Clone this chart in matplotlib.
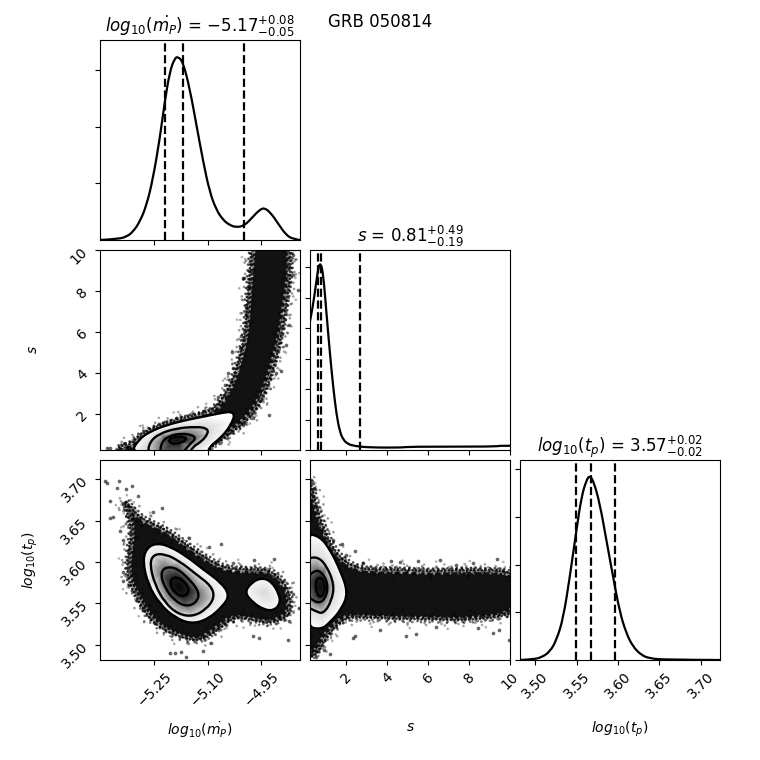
import numpy as np
import matplotlib
matplotlib.use('Agg')
import matplotlib.pyplot as plt
import matplotlib.tri as mtri
import matplotlib.transforms as mtrans
from matplotlib.path import Path
from matplotlib.patches import PathPatch

# limits and ticks
mp_lim = (-5.403, -4.841)
s_lim = (0.22, 10.0)
tp_lim = (3.4815, 3.7235)
mp_ticks = [-5.25, -5.10, -4.95]
s_ticks = [2, 4, 6, 8, 10]
tp_ticks = [3.50, 3.55, 3.60, 3.65, 3.70]
mp_label = r'$log_{10}(\dot{m_P})$'
s_label = r'$s$'
tp_label = r'$log_{10}(t_p)$'

# 1d histograms
h1_x = [-5.403, -5.352, -5.328, -5.310, -5.291, -5.272, -5.254, -5.235, -5.221, -5.207, -5.193, -5.184, -5.170, -5.151, -5.132, -5.113, -5.095, -5.076, -5.057, -5.039, -5.020, -4.997, -4.973, -4.955, -4.941, -4.922, -4.903, -4.880, -4.861, -4.841]
h1_y = [0, .035, .118, .294, .647, 1.235, 2.176, 3.588, 4.882, 5.941, 6.42, 6.47, 6.294, 5.353, 4.059, 2.765, 1.706, 1.059, .706, .529, .447, .506, .824, 1.059, 1.14, .941, .588, .176, .035, 0]
h1_q = [-5.220, -5.170, -4.998]
h2_x = [.22, .35, .51, .63, .74, .87, 1.03, 1.2, 1.36, 1.52, 1.68, 1.85, 2.09, 2.41, 3.15, 4.85, 4.93, 9.32, 9.4, 10]
h2_y = [.423, .467, .544, .6, .615, .577, .445, .313, .203, .115, .06, .033, .019, .013, .008, .008, .011, .011, .014, .014]
h2_q = [.59, .76, 2.66]
h3_x = [3.4815, 3.4976, 3.5076, 3.5177, 3.5257, 3.5338, 3.5418, 3.5498, 3.5559, 3.5619, 3.5659, 3.5707, 3.5780, 3.5860, 3.5941, 3.6021, 3.6101, 3.6182, 3.6282, 3.6383, 3.6564, 3.7235]
h3_y = [0, .07, .28, .87, 2.10, 4.37, 8.74, 13.64, 17.13, 18.88, 19.35, 18.71, 16.43, 12.59, 8.74, 5.07, 2.80, 1.40, .52, .17, .03, 0]
h3_q = [3.5490, 3.5679, 3.5961]

# mp vs s
a_env_x = [-4.975, -4.981, -4.985, -4.990, -4.992, -5.000, -5.014, -5.029, -5.053, -5.081, -5.109, -5.197, -5.291, -5.314, -5.352, -5.352, -5.099, -5.099, -5.067, -5.029, -4.992, -4.955, -4.931, -4.913, -4.899, -4.887, -4.880, -4.871, -4.866, -4.871]
a_env_y = [10.6, 9.27, 8.45, 7.47, 6.66, 5.52, 4.62, 3.72, 2.91, 2.26, 2.01, 1.69, 1.03, .51, .42, 0, 0, .27, .63, 1.12, 1.61, 2.42, 3.40, 4.38, 5.35, 6.33, 7.31, 8.29, 9.27, 10.6]
a_r1_x = [-5.318, -5.296, -5.263, -5.216, -5.160, -5.104, -5.057, -5.034, -5.025, -5.031, -5.048, -5.071, -5.095, -5.102]
a_r1_y = [0, .71, 1.12, 1.44, 1.69, 1.88, 2.05, 2.09, 1.93, 1.61, 1.12, .71, .38, 0]
a_r2_x = [-5.270, -5.263, -5.235, -5.188, -5.132, -5.102, -5.099, -5.118, -5.142, -5.153]
a_r2_y = [0, .63, 1.03, 1.28, 1.36, 1.28, 1.03, .63, .38, 0]
a_r3_x = [-5.235, -5.230, -5.207, -5.174, -5.142, -5.134, -5.151, -5.174]
a_r3_y = [0, .63, .92, 1.03, .95, .76, .51, 0]
a_r4_x = [-5.212, -5.193, -5.165, -5.160, -5.179, -5.202]
a_r4_y = [.71, .87, .87, .71, .55, .51]
a_mid_x = [-5.186]
a_mid_y = [.71]
a_pts_x = [-5.001, -4.997, -4.985, -4.973, -4.861, -4.847, -4.861, -4.871, -5.006, -5.031, -5.011, -5.028, -5.043, -4.894, -4.908, -5.053, -5.113, -5.071, -4.927, -5.001, -4.973, -5.384, -5.375, -4.880, -4.992, -4.994]
a_pts_y = [8.61, 8.61, 8.21, 9.02, 9.76, 8.04, 8.78, 6.33, 5.79, 5.0, 5.19, 4.21, 3.97, 4.08, 3.97, 3.40, 2.13, 2.83, 1.93, 1.44, 1.77, .30, .33, 5.35, 6.82, 7.23]

# mp vs tp
b_env_x = [-5.338, -5.291, -5.235, -5.197, -5.160, -5.113, -5.057, -4.992, -4.927, -4.894, -4.871, -4.866, -4.875, -4.927, -4.983, -5.029, -5.076, -5.123, -5.170, -5.226, -5.268, -5.300, -5.328, -5.324, -5.314, -5.328]
b_env_y = [3.678, 3.653, 3.643, 3.633, 3.621, 3.607, 3.593, 3.591, 3.591, 3.579, 3.565, 3.545, 3.533, 3.525, 3.531, 3.533, 3.516, 3.504, 3.508, 3.518, 3.533, 3.557, 3.581, 3.613, 3.637, 3.662]
b_r1_x = [-5.283, -5.272, -5.244, -5.207, -5.160, -5.113, -5.062, -5.039, -5.057, -5.099, -5.146, -5.193, -5.235, -5.268]
b_r1_y = [3.601, 3.617, 3.623, 3.619, 3.607, 3.591, 3.575, 3.560, 3.547, 3.531, 3.525, 3.533, 3.549, 3.573]
b_r2_x = [-5.263, -5.254, -5.221, -5.179, -5.132, -5.090, -5.081, -5.104, -5.142, -5.184, -5.221, -5.249]
b_r2_y = [3.597, 3.609, 3.610, 3.601, 3.585, 3.571, 3.557, 3.543, 3.534, 3.537, 3.551, 3.573]
b_r3_x = [-5.233, -5.221, -5.188, -5.151, -5.123, -5.132, -5.160, -5.193, -5.221]
b_r3_y = [3.585, 3.594, 3.593, 3.579, 3.563, 3.551, 3.546, 3.553, 3.569]
b_r4_x = [-5.207, -5.197, -5.174, -5.153, -5.156, -5.174, -5.196]
b_r4_y = [3.575, 3.582, 3.580, 3.569, 3.561, 3.558, 3.564]
b_mid_x = [-5.181]
b_mid_y = [3.570]
b_isle_x = [-4.997, -4.978, -4.950, -4.922, -4.899, -4.897, -4.917, -4.945, -4.973]
b_isle_y = [3.563, 3.575, 3.581, 3.577, 3.561, 3.549, 3.541, 3.543, 3.551]
b_isle_mid_x = [-4.941]
b_isle_mid_y = [3.563]
b_pts_x = [-5.389, -5.382, -5.349, -5.354, -5.330, -5.312, -5.296, -5.375, -5.366, -5.375, -5.347, -5.338, -5.230, -5.254, -5.153, -5.097, -5.062, -5.029, -4.969, -4.913, -4.889, -4.861, -4.843, -4.871, -4.875, -4.955, -4.973, -5.090, -5.113, -5.160, -5.193, -5.207, -5.174, -5.282, -5.338, -5.339]
b_pts_y = [3.698, 3.696, 3.698, 3.690, 3.689, 3.692, 3.680, 3.674, 3.655, 3.653, 3.637, 3.627, 3.666, 3.660, 3.629, 3.618, 3.622, 3.599, 3.603, 3.604, 3.577, 3.561, 3.544, 3.529, 3.506, 3.508, 3.510, 3.502, 3.492, 3.485, 3.490, 3.490, 3.491, 3.545, 3.577, 3.588]

# s vs tp
c_env_x = [0, .27, .545, .95, 1.52, 2.41, 3.47, 4.61, 6.23, 7.86, 10.6, 10.6, 7.86, 6.23, 4.61, 2.98, 2.0, 1.36, .95, .63, .27, 0]
c_env_y = [3.698, 3.698, 3.666, 3.637, 3.609, 3.593, 3.591, 3.591, 3.589, 3.591, 3.589, 3.537, 3.529, 3.531, 3.531, 3.533, 3.533, 3.520, 3.506, 3.492, 3.484, 3.484]
c_r1_x = [-.02, .71, 1.2, 1.68, 2.09, 1.76, 1.2, .74, -.02]
c_r1_y = [3.635, 3.631, 3.615, 3.591, 3.563, 3.543, 3.527, 3.518, 3.523]
c_r2_x = [-.02, .545, 1.0, 1.41, 1.28, .87, .46, -.02]
c_r2_y = [3.603, 3.607, 3.597, 3.573, 3.553, 3.537, 3.541, 3.547]
c_r3_x = [-.02, .545, .95, 1.11, .95, .63, .30, -.02]
c_r3_y = [3.579, 3.592, 3.583, 3.569, 3.555, 3.550, 3.555, 3.561]
c_r4_x = [.51, .79, .98, .87, .63, .50]
c_r4_y = [3.579, 3.582, 3.571, 3.559, 3.558, 3.567]
c_mid_x = [.74]
c_mid_y = [3.570]
c_pts_x = [.33, .43, .38, .545, 1.36, 1.80, 2.0, 2.41, 2.82, 4.2, 4.61, 5.5, 6.56, 7.37, 8.2, 9.35, 9.65, 2.33, 1.2, 4.93, 5.42, 6.4, 8.43, 9.48, 9.94, 9.16, .63, .9, 3.63, 2.41, .51]
c_pts_y = [3.698, 3.690, 3.680, 3.666, 3.627, 3.622, 3.608, 3.613, 3.599, 3.601, 3.600, 3.601, 3.603, 3.597, 3.599, 3.604, 3.589, 3.508, 3.489, 3.510, 3.513, 3.522, 3.520, 3.518, 3.506, 3.514, 3.492, 3.493, 3.518, 3.510, 3.485]

# grey shade on each ring, outer to centre
a_shades = [.99, .84, .45, .16, .05]
b_shades = [.99, .88, .45, .12, .02]
c_shades = [.99, .86, .45, .14, .04]


def smooth_path(xs, ys, closed=True):
    pts = np.column_stack([xs, ys])
    mids = (pts + np.roll(pts, -1, axis=0)) / 2
    verts = [mids[-1]]
    codes = [Path.MOVETO]
    for p, m in zip(pts, mids):
        verts += [p, m]
        codes += [Path.CURVE3, Path.CURVE3]
    if not closed:
        verts = [pts[0]]
        codes = [Path.MOVETO]
        for p, m in zip(pts[1:-1], mids[1:-2]):
            verts += [p, m]
            codes += [Path.CURVE3, Path.CURVE3]
        verts += [pts[-2], pts[-1]]
        codes += [Path.CURVE3, Path.CURVE3]
    return Path(verts, codes)


def draw_cloud(ax, env_x, env_y, pts_x, pts_y):
    path = smooth_path(env_x, env_y)
    ax.add_patch(PathPatch(path, fc='#121212', ec='none'))
    ax.add_patch(PathPatch(path, fc='none', ec='w', lw=3, alpha=0.5))
    # shifted copies of the edge, dots with different spacing so it looks speckled
    for (dx, dy), gap in zip([(3, 1), (-3, 2), (2, -3), (-2, -2)], [1.7, 2.3, 2.9, 3.7]):
        tr = mtrans.offset_copy(ax.transData, fig=ax.figure, x=dx, y=dy, units='dots')
        ax.add_patch(PathPatch(path, transform=tr, fc='none', ec='w', lw=2.0, ls=(0, (0.01, gap)), capstyle='round', alpha=0.5))
    for (dx, dy), gap, al in zip([(0, 0), (2, 2), (-2, 1), (1, -2), (-1, -3), (4, -1), (-4, 3), (6, 4), (-6, -4), (5, -6), (-5, 6), (9, 2), (-9, -1), (2, 9), (-1, -9)],
                                 [1.3, 1.7, 2.1, 2.7, 3.1, 3.9, 4.7, 5.3, 6.1, 6.7, 7.3, 9.7, 11.3, 12.1, 13.7],
                                 [.8, .7, .7, .55, .55, .4, .4, .4, .4, .35, .35, .3, .3, .3, .3]):
        tr = mtrans.offset_copy(ax.transData, fig=ax.figure, x=dx, y=dy, units='dots')
        ax.add_patch(PathPatch(path, transform=tr, fc='none', ec='k', lw=2.0, ls=(0, (0.01, gap)), capstyle='round', alpha=al))
    ax.scatter(pts_x, pts_y, s=7, c='k', alpha=0.6, linewidths=0)


def draw_rings(ax, rings, shades):
    # rings = [(x, y), ...] outer first, last one is the centre point
    xs = np.concatenate([r[0] for r in rings])
    ys = np.concatenate([r[1] for r in rings])
    vals = np.concatenate([[g] * len(r[0]) for r, g in zip(rings, shades)])
    # data scales differ a lot, triangulate on scaled coords
    tri = mtri.Triangulation(xs / np.ptp(xs), ys / np.ptp(ys))
    outer = smooth_path(rings[0][0], rings[0][1])
    clip = PathPatch(outer, transform=ax.transData, fc='none', ec='none')
    ax.add_patch(clip)
    shade = ax.tripcolor(mtri.Triangulation(xs, ys, tri.triangles), vals, shading='gouraud', cmap='gray', vmin=0, vmax=1)
    shade.set_clip_path(clip)
    for r in rings[:-1]:
        ax.add_patch(PathPatch(smooth_path(r[0], r[1]), fc='none', ec='k', lw=1.7))


def hist_panel(ax, x, y, q, lim, top, xticks, yticks):
    ax.add_patch(PathPatch(smooth_path(x, y, closed=False), fc='none', ec='k', lw=1.6))
    for v in q:
        ax.axvline(v, color='k', ls='--', lw=1.6)
    ax.set_xlim(lim)
    ax.set_ylim(0, top)
    ax.set_xticks(xticks)
    ax.set_yticks(yticks)
    ax.set_yticklabels([])


def px_axes(fig, left, top):
    return fig.add_axes([left / 760, 1 - (top + 200) / 760, 200 / 760, 200 / 760])


def fmt(vals):
    return [('%.2f' % v).replace('-', '\u2212') for v in vals]


fig = plt.figure(figsize=(7.6, 7.6), dpi=100)

ax_h1 = px_axes(fig, 100, 40)
ax_h2 = px_axes(fig, 310, 250)
ax_h3 = px_axes(fig, 520, 460)
ax_a = px_axes(fig, 100, 250)
ax_b = px_axes(fig, 100, 460)
ax_c = px_axes(fig, 310, 460)

hist_panel(ax_h1, h1_x, h1_y, h1_q, mp_lim, 7.06, mp_ticks, [2, 4, 6])
ax_h1.set_xticklabels([])
ax_h1.set_title(mp_label + r' = $-5.17_{-0.05}^{+0.08}$', fontsize=12)

hist_panel(ax_h2, h2_x, h2_y, h2_q, s_lim, 0.657, s_ticks, [0, .1, .2, .3, .4, .5, .6])
ax_h2.set_xticklabels([])
ax_h2.set_title(s_label + r' = $0.81_{-0.19}^{+0.49}$', fontsize=12)

hist_panel(ax_h3, h3_x, h3_y, h3_q, tp_lim, 20.98, tp_ticks, [0, 5, 10, 15, 20])
ax_h3.set_title(tp_label + r' = $3.57_{-0.02}^{+0.02}$', fontsize=12)

draw_cloud(ax_a, a_env_x, a_env_y, a_pts_x, a_pts_y)
draw_rings(ax_a, [(a_r1_x, a_r1_y), (a_r2_x, a_r2_y), (a_r3_x, a_r3_y), (a_r4_x, a_r4_y), (a_mid_x, a_mid_y)], a_shades)
ax_a.set_xlim(mp_lim)
ax_a.set_ylim(s_lim)
ax_a.set_xticks(mp_ticks)
ax_a.set_xticklabels([])
ax_a.set_yticks(s_ticks)

draw_cloud(ax_b, b_env_x, b_env_y, b_pts_x, b_pts_y)
draw_rings(ax_b, [(b_r1_x, b_r1_y), (b_r2_x, b_r2_y), (b_r3_x, b_r3_y), (b_r4_x, b_r4_y), (b_mid_x, b_mid_y)], b_shades)
draw_rings(ax_b, [(b_isle_x, b_isle_y), (b_isle_mid_x, b_isle_mid_y)], [.98, .84])
ax_b.set_xlim(mp_lim)
ax_b.set_ylim(tp_lim)
ax_b.set_xticks(mp_ticks)
ax_b.set_yticks(tp_ticks)
ax_b.set_yticklabels(fmt(tp_ticks))

draw_cloud(ax_c, c_env_x, c_env_y, c_pts_x, c_pts_y)
draw_rings(ax_c, [(c_r1_x, c_r1_y), (c_r2_x, c_r2_y), (c_r3_x, c_r3_y), (c_r4_x, c_r4_y), (c_mid_x, c_mid_y)], c_shades)
ax_c.set_xlim(s_lim)
ax_c.set_ylim(tp_lim)
ax_c.set_xticks(s_ticks)
ax_c.set_yticks(tp_ticks)
ax_c.set_yticklabels([])

ax_b.set_xticklabels(fmt(mp_ticks))
ax_h3.set_xticklabels(fmt(tp_ticks))
ax_c.set_xticklabels([str(t) for t in s_ticks])

for ax in [ax_a, ax_b, ax_c, ax_h3]:
    for t in ax.get_xticklabels() + ax.get_yticklabels():
        t.set_rotation(45)

for ax, lab in [(ax_b, mp_label), (ax_c, s_label), (ax_h3, tp_label)]:
    ax.set_xlabel(lab)
    ax.xaxis.set_label_coords(0.5, -0.3)
for ax, lab in [(ax_a, s_label), (ax_b, tp_label)]:
    ax.set_ylabel(lab)
    ax.yaxis.set_label_coords(-0.3, 0.5)

fig.text(380 / 760, 1 - 22 / 760, 'GRB 050814', ha='center', va='center', fontsize=12)

plt.savefig('out.png', dpi=100)
